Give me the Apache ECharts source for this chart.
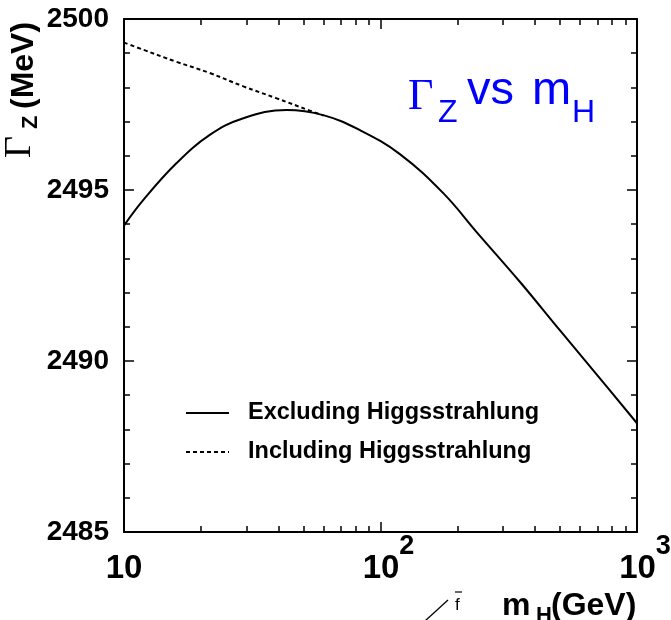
<!DOCTYPE html>
<html>
<head>
<meta charset="utf-8">
<script src="https://cdn.jsdelivr.net/npm/echarts@6/dist/echarts.min.js"></script>
<style>
  html, body { margin: 0; padding: 0; background: #fff; }
  #chart { width: 671px; height: 620px; }
</style>
</head>
<body>
<div id="chart"></div>
<script>
// Z width vs Higgs mass, with and without Higgsstrahlung
const seriesNames = ['Excluding Higgsstrahlung', 'Including Higgsstrahlung'];

const massExcl  = [10, 11.9, 16.0, 21.6, 29.2, 43.1, 59.8, 83.2, 119, 176, 237, 350, 500, 697, 1000];
const widthExcl = [2493.96, 2494.71, 2495.78, 2496.61, 2497.10, 2497.34, 2497.19, 2496.75, 2496.05,
                   2494.90, 2493.77, 2492.31, 2490.90, 2489.60, 2488.18];

const massIncl  = [10, 11.9, 16.0, 21.6, 29.2, 39.4, 53.1, 60.0];
const widthIncl = [2499.31, 2499.10, 2498.75, 2498.42, 2498.03, 2497.68, 2497.32, 2497.18];

const yMin = 2485, yMax = 2500, yStep = 5;
const xMajorTicks = [10, 100, 1000];
const xMinorTicks = [20, 30, 40, 50, 60, 70, 80, 90, 200, 300, 400, 500, 600, 700, 800, 900];
const xLabelExponents = [1, 2, 3];   // labels 10, 10^2, 10^3

const SANS = '"Liberation Sans", Arial, Helvetica, sans-serif';
const SERIF = '"Liberation Serif", "Times New Roman", serif';
const BLUE = '#0000ff';

const chart = echarts.init(document.getElementById('chart'), null, { renderer: 'canvas' });

// helper axes in log10 space that carry the decade ticks and labels
function decadeAxis(position, tickValues, len, withLabels, showLine) {
  return {
    type: 'value', gridIndex: 0, position: position, min: 1, max: 3,
    axisLine: { show: !!showLine, lineStyle: { color: '#000', width: 2 } },
    splitLine: { show: false },
    axisTick: {
      show: true, inside: true, length: len,
      customValues: tickValues.map(Math.log10),
      lineStyle: { color: '#000', width: 1.5 }
    },
    axisLabel: withLabels ? {
      show: true, margin: 1,
      customValues: xLabelExponents,
      formatter: function (v) {
        const e = Math.round(v);
        return e === 1 ? '{b|10}' : '{p|10}{s|' + e + '}';
      },
      rich: {
        b: { fontSize: 33, fontWeight: 'bold', fontFamily: SANS, color: '#000', lineHeight: 33, padding: [19, 0, 0, 0], verticalAlign: 'top' },
        p: { fontSize: 33, fontWeight: 'bold', fontFamily: SANS, color: '#000', lineHeight: 33, padding: [19, 0, 0, 16], verticalAlign: 'top' },
        s: { fontSize: 27, fontWeight: 'bold', fontFamily: SANS, color: '#000', lineHeight: 27, verticalAlign: 'top' }
      }
    } : { show: false }
  };
}

function widthAxis(position, withLabels) {
  return {
    type: 'value', gridIndex: 0, position: position,
    min: yMin, max: yMax, interval: yStep,
    axisLine: { show: true, lineStyle: { color: '#000', width: 2 } },
    splitLine: { show: false },
    axisTick: { show: true, inside: true, length: 10, lineStyle: { color: '#000', width: 1.5 } },
    minorTick: { show: true, splitNumber: 5, length: 6, lineStyle: { color: '#000', width: 1.5 } },
    axisLabel: withLabels ? {
      show: true, margin: 15, fontSize: 28, fontWeight: 'bold', fontFamily: SANS, color: '#000',
      formatter: function (v) { return String(v); }
    } : { show: false }
  };
}

const option = {
  animation: false,
  backgroundColor: '#fff',
  grid: { left: 124, right: 34, top: 19, bottom: 88, containLabel: false, outerBoundsMode: 'none' },
  xAxis: [
    {
      type: 'log', logBase: 10, gridIndex: 0, position: 'bottom', min: 10, max: 1000,
      axisLine: { show: true, lineStyle: { color: '#000', width: 2 } },
      axisTick: { show: false }, axisLabel: { show: false },
      splitLine: { show: false }, minorTick: { show: false }
    },
    decadeAxis('bottom', xMajorTicks, 10, true, false),
    decadeAxis('bottom', xMinorTicks, 6, false, false),
    decadeAxis('top', xMajorTicks, 10, false, true),
    decadeAxis('top', xMinorTicks, 6, false, false)
  ],
  yAxis: [widthAxis('left', true), widthAxis('right', false)],
  legend: {
    orient: 'vertical', left: 185, top: 401, padding: 0,
    itemWidth: 43, itemHeight: 14, itemGap: 15,
    icon: 'inherit',
    selectedMode: false,
    itemStyle: { opacity: 0 },
    textStyle: {
      fontSize: 23.5, fontWeight: 'bold', fontFamily: SANS, color: '#000',
      lineHeight: 24, padding: [0, 0, 0, 14]
    },
    data: seriesNames
  },
  series: [
    {
      name: seriesNames[0], type: 'line', xAxisIndex: 0, yAxisIndex: 0,
      data: massExcl.map((m, i) => [m, widthExcl[i]]),
      smooth: 0.4, symbol: 'none', z: 3,
      itemStyle: { color: '#000' },
      lineStyle: { color: '#000', width: 2, type: 'solid' }
    },
    {
      name: seriesNames[1], type: 'line', xAxisIndex: 0, yAxisIndex: 0,
      data: massIncl.map((m, i) => [m, widthIncl[i]]),
      smooth: 0.4, symbol: 'none', z: 2,
      itemStyle: { color: '#000' },
      lineStyle: { color: '#000', width: 2, type: [4, 3] }
    }
  ],
  graphic: [
    // plot title
    { type: 'text', x: 408, y: 97, style: { text: 'Γ', font: '44px ' + SERIF, fill: BLUE, verticalAlign: 'middle' } },
    { type: 'text', x: 438, y: 113, style: { text: 'Z', font: '32px ' + SANS, fill: BLUE, verticalAlign: 'middle' } },
    { type: 'text', x: 467, y: 91, style: { text: 'vs', font: '47px ' + SANS, fill: BLUE, verticalAlign: 'middle' } },
    { type: 'text', x: 532, y: 91, style: { text: 'm', font: '47px ' + SANS, fill: BLUE, verticalAlign: 'middle' } },
    { type: 'text', x: 572, y: 113, style: { text: 'H', font: '32px ' + SANS, fill: BLUE, verticalAlign: 'middle' } },
    // y axis title, reading upwards
    {
      type: 'group', x: 0, y: 158, rotation: Math.PI / 2,
      children: [
        { type: 'text', x: 0, y: 20, style: { text: 'Γ', font: '38px ' + SERIF, fill: '#000', verticalAlign: 'middle' } },
        { type: 'text', x: 29, y: 31, style: { text: 'Z', font: 'bold 22px ' + SANS, fill: '#000', verticalAlign: 'middle' } },
        { type: 'text', x: 49, y: 24, style: { text: '(MeV)', font: 'bold 32px ' + SANS, fill: '#000', verticalAlign: 'middle' } }
      ]
    },
    // x axis title
    { type: 'text', x: 502, y: 606, style: { text: 'm', font: 'bold 32px ' + SANS, fill: '#000', verticalAlign: 'middle' } },
    { type: 'text', x: 536, y: 616, style: { text: 'H', font: 'bold 22px ' + SANS, fill: '#000', verticalAlign: 'middle' } },
    { type: 'text', x: 551, y: 606, style: { text: '(GeV)', font: 'bold 32px ' + SANS, fill: '#000', verticalAlign: 'middle' } },
    // antifermion leg of a diagram at the lower edge
    { type: 'line', shape: { x1: 425, y1: 621, x2: 448, y2: 600 }, style: { stroke: '#000', lineWidth: 1.3 } },
    { type: 'text', x: 455, y: 605, style: { text: 'f', font: '17px ' + SANS, fill: '#000', verticalAlign: 'middle' } },
    { type: 'line', shape: { x1: 455, y1: 592, x2: 462, y2: 592 }, style: { stroke: '#000', lineWidth: 1.2 } }
  ]
};

chart.setOption(option);
</script>
</body>
</html>
